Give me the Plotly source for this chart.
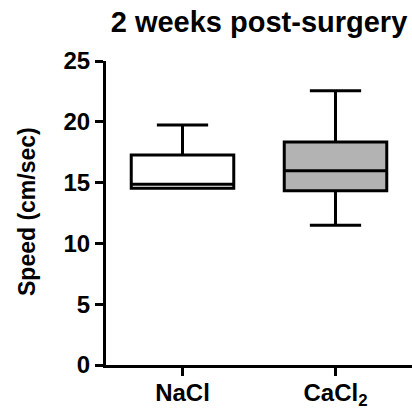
import plotly.graph_objects as go

categories = ["NaCl", "CaCl2"]
tick_labels = ["NaCl", "CaCl<sub>2</sub>"]
lower = [14.53, 11.5]
q1 = [14.53, 14.33]
median = [14.86, 15.98]
q3 = [17.27, 18.34]
upper = [19.74, 22.56]
fills = ["#ffffff", "#b3b3b3"]
y_ticks = [0, 5, 10, 15, 20, 25]

fig = go.Figure()
for i, cat in enumerate(categories):
    fig.add_trace(go.Box(
        x=[i],
        q1=[q1[i]], median=[median[i]], q3=[q3[i]],
        lowerfence=[lower[i]], upperfence=[upper[i]],
        fillcolor=fills[i],
        line=dict(color="black", width=3),
        width=0.67,
        whiskerwidth=0.5,
        boxpoints=False,
        showlegend=False,
        name=cat,
    ))

fnt = "Liberation Sans, Arial, sans-serif"
fig.update_layout(
    width=412, height=411,
    margin=dict(l=106, r=0, t=61, b=46),
    plot_bgcolor="white", paper_bgcolor="white",
    boxmode="overlay",
    title=dict(text="<b>2 weeks post-surgery</b>", x=0.5, xref="paper",
               y=1 - 22 / 411, yref="container", yanchor="middle", xanchor="center",
               font=dict(family=fnt, size=29, color="black")),
    xaxis=dict(range=[-0.5, 1.5], tickvals=[0, 1], ticktext=["<b>" + t + "</b>" for t in tick_labels],
               showline=True, linecolor="black", linewidth=3, ticks="outside",
               ticklen=8, tickwidth=3, tickcolor="black", showgrid=False, zeroline=False,
               automargin=False, ticklabelstandoff=-4,
               tickfont=dict(family=fnt, size=24, color="black")),
    yaxis=dict(range=[0, 25], tickvals=y_ticks,
               ticktext=["<b>%d</b>" % v for v in y_ticks],
               showline=True, linecolor="black", linewidth=3, ticks="outside",
               ticklen=8, tickwidth=3, tickcolor="black", showgrid=False, zeroline=False,
               automargin=False,
               tickfont=dict(family=fnt, size=24, color="black")),
    annotations=[dict(text="<b>Speed (cm/sec)</b>", textangle=-90,
                      xref="paper", yref="paper", x=(27 - 106) / 306, y=(365 - 211) / 304,
                      xanchor="center", yanchor="middle", showarrow=False,
                      font=dict(family=fnt, size=23, color="black"))],
)

fig.write_html("out.html", config={"displayModeBar": False},
               post_script="document.body.style.margin='0px';document.body.style.overflow='hidden';")
